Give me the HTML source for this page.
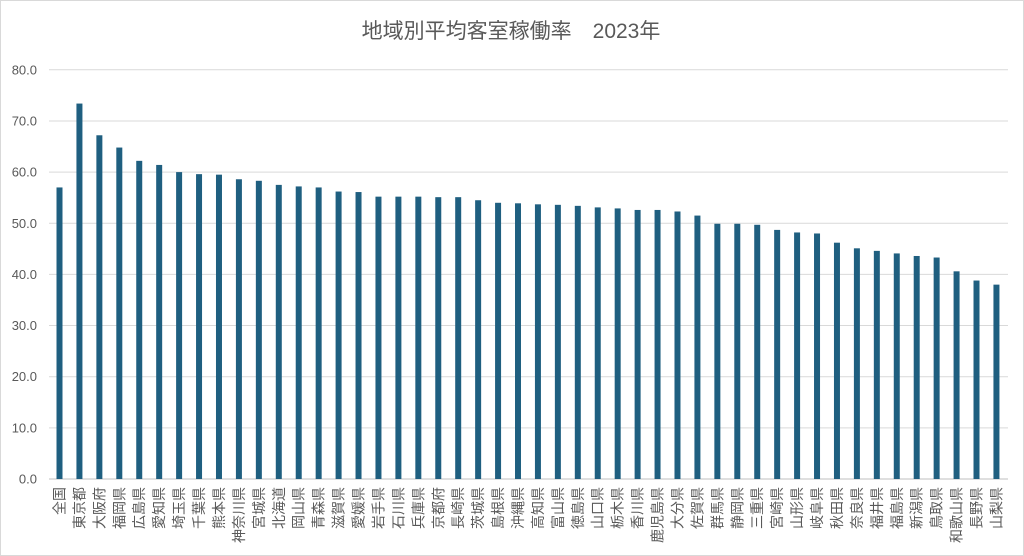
<!DOCTYPE html>
<html><head><meta charset="utf-8"><style>
body{margin:0;background:#fff}
svg{display:block;font-family:"Liberation Sans","Noto Sans CJK JP",sans-serif}
</style></head><body>
<svg id="c" width="1024" height="556" xmlns="http://www.w3.org/2000/svg">
<rect x="0.5" y="0.5" width="1023" height="555" fill="#fff" stroke="#d9d9d9"/>
<text x="511" y="38" text-anchor="middle" font-size="21" fill="#595959">地域別平均客室稼働率　2023年</text>
<g id="g"></g>
</svg>
<script>
const names="全国,東京都,大阪府,福岡県,広島県,愛知県,埼玉県,千葉県,熊本県,神奈川県,宮城県,北海道,岡山県,青森県,滋賀県,愛媛県,岩手県,石川県,兵庫県,京都府,長崎県,茨城県,島根県,沖縄県,高知県,富山県,徳島県,山口県,栃木県,香川県,鹿児島県,大分県,佐賀県,群馬県,静岡県,三重県,宮崎県,山形県,岐阜県,秋田県,奈良県,福井県,福島県,新潟県,鳥取県,和歌山県,長野県,山梨県".split(",");
const v=[57.0,73.4,67.2,64.8,62.2,61.4,60.0,59.6,59.5,58.6,58.3,57.5,57.2,57.0,56.2,56.1,55.2,55.2,55.2,55.1,55.1,54.5,54.0,53.9,53.7,53.6,53.4,53.1,52.9,52.6,52.6,52.3,51.5,49.9,49.9,49.7,48.7,48.2,48.0,46.2,45.1,44.6,44.1,43.6,43.3,40.6,38.8,38.0];
let s="";const y0=479,k=409.2/80;
for(let i=0;i<=8;i++){const y=y0-i*10*k;s+=`<line x1="49" x2="1008" y1="${y}" y2="${y}" stroke="${i?'#d9d9d9':'#bfbfbf'}" stroke-width="1"/><text x="37" y="${y+4.5}" text-anchor="end" font-size="13" fill="#595959">${(i*10).toFixed(1)}</text>`;}
v.forEach((d,i)=>{const cx=59.5+i*19.935,h=d*k;s+=`<rect x="${cx-3}" y="${y0-h}" width="6" height="${h}" fill="#1f5f80"/><text transform="translate(${cx+5},487) rotate(-90)" text-anchor="end" font-size="14" fill="#595959">${names[i]}</text>`;});
document.getElementById("g").innerHTML=s;
</script>
</body></html>
